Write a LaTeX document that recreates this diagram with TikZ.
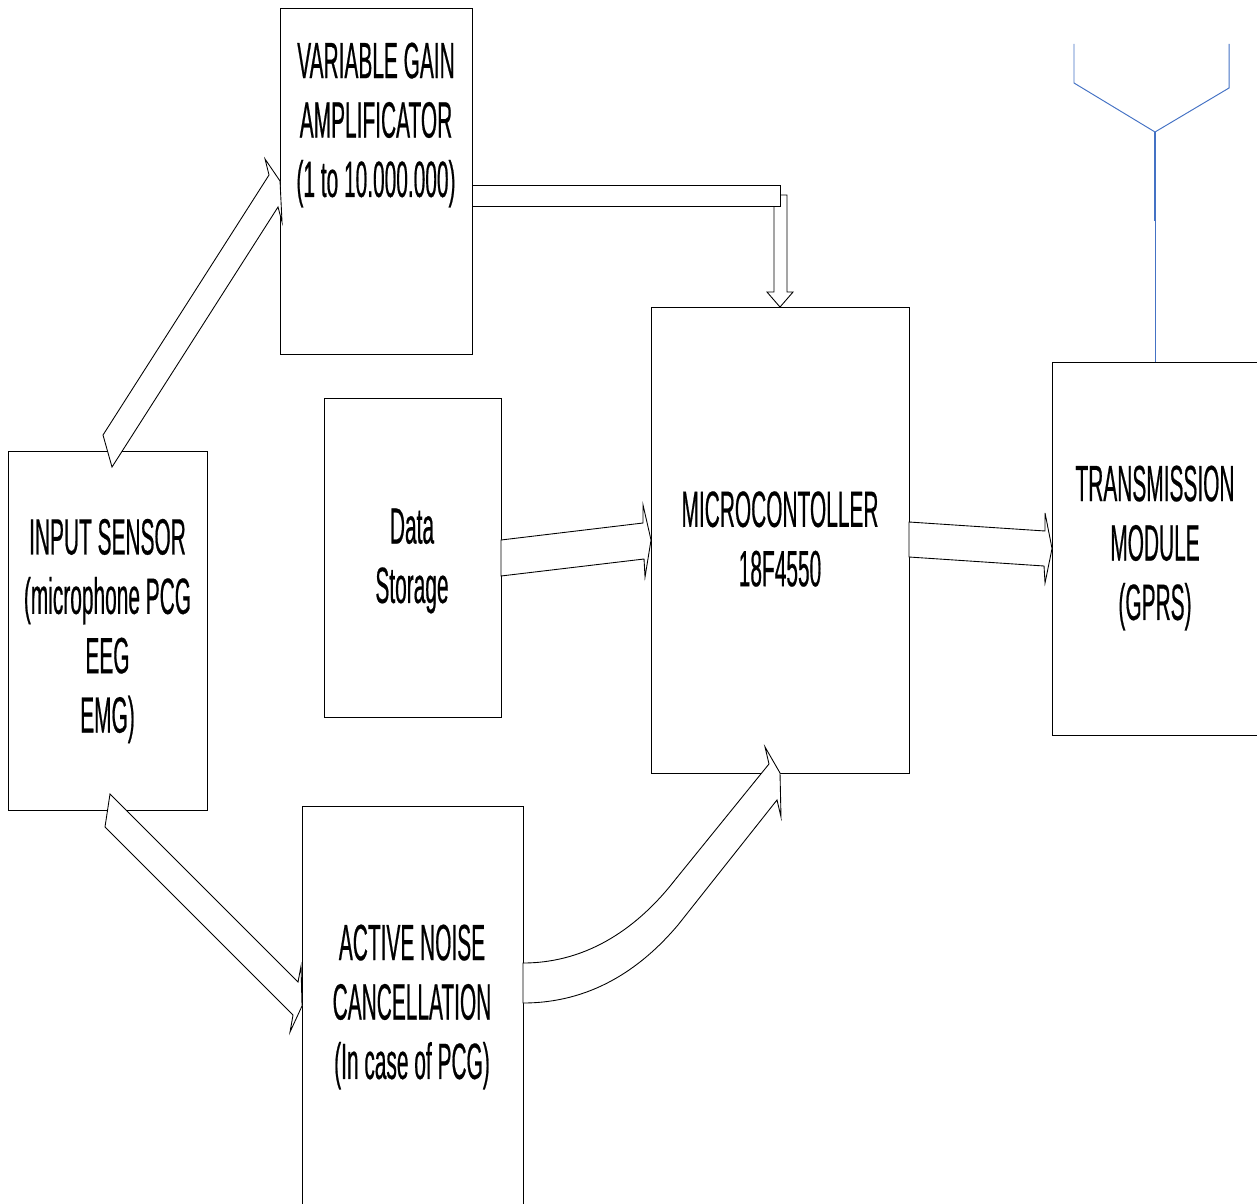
\documentclass[tikz,border=0pt]{standalone}
\usepackage{fontspec}
\setmainfont[FakeStretch=0.41,FakeBold=0.4]{Liberation Sans}
\usetikzlibrary{calc}
\definecolor{antcol}{HTML}{4472C4}
\tikzset{
  block/.style={rectangle, draw=black, line width=0.5pt, inner sep=0pt, outer sep=0pt},
  blocktext/.style={align=center, inner sep=0pt, font=\fontsize{29}{33.8}\selectfont},
  blockarrow/.style={draw=black, fill=white, line width=0.5pt, line join=miter},
  antwire/.style={draw=antcol, line width=0.55pt},
}
\begin{document}
\begin{tikzpicture}[x=0.02cm,y=-0.02cm]
    \useasboundingbox (0,0) rectangle (1257,1203);
    \node[block, minimum width=3.84cm, minimum height=6.92cm] (vga) at (376,181) {};
    \node[block, minimum width=3.54cm, minimum height=6.38cm] (store) at (412.5,557.5) {};
    \node[block, minimum width=5.16cm, minimum height=9.32cm] (micro) at (780,540) {};
    \node[block, minimum width=4.12cm, minimum height=7.46cm] (trans) at (1155,548.5) {};
    \node[block, minimum width=3.98cm, minimum height=7.18cm] (input) at (107.5,630.5) {};
    \node[block, minimum width=4.42cm, minimum height=8cm] (noise) at (412.5,1006) {};
    \node[blocktext] (vgatext) at (376,125) {VARIABLE GAIN\\AMPLIFICATOR\\(1 to 10.000.000)};
    \node[blocktext] (storetext) at (412,561) {Data\\Storage};
    \node[blocktext] (microtext) at (780,539) {MICROCONTOLLER\\18F4550};
    \node[blocktext] (transtext) at (1155,548) {TRANSMISSION\\MODULE\\(GPRS)};
    \node[blocktext] (inputtext) at (107.5,631) {INPUT SENSOR\\(microphone PCG\\EEG\\EMG)};
    \node[blocktext] (noisetext) at (412,1007) {ACTIVE NOISE\\CANCELLATION\\(In case of PCG)};
    \draw[blockarrow] ($(input.north)+(-4.5,-16)$) -- ($(vga.west)+(-11,-6)$) -- ($(vga.west)+(-15,-22)$) -- (vga.west)
        -- ($(vga.west)+(2,41)$) -- ($(vga.west)+(-2,26)$) -- ($(input.north)+(4.5,16)$) -- cycle;
    \draw[blockarrow] ($(input.south)+(2.5,-16)$) -- ($(noise.west)+(-4,-24)$) -- ($(noise.west)+(-1,-40)$) -- (noise.west)
        -- ($(noise.west)+(-12,26)$) -- ($(noise.west)+(-9,9)$) -- ($(input.south)+(-2.5,17)$) -- cycle;
    \draw[blockarrow] ($(noise.east)+(0,-43)$) .. controls ($(noise.east)+(67,-43)$) and ($(micro.south)+(-140,152)$) .. ($(micro.south)+(-105,107)$)
        -- ($(micro.south)+(-11,-9)$) -- ($(micro.south)+(-15,-26)$) -- (micro.south) -- ($(micro.south)+(1,44)$) -- ($(micro.south)+(-3,27)$)
        -- ($(micro.south)+(-102,152)$) .. controls ($(micro.south)+(-140,197)$) and ($(noise.east)+(67,-3)$) .. ($(noise.east)+(0,-3)$) -- cycle;
    \draw[blockarrow] ($(store.east)+(0,-17.5)$) -- ($(micro.west)+(-8,-17)$) -- ($(micro.west)+(-8,-35)$) -- (micro.west)
        -- ($(micro.west)+(-6,37)$) -- ($(micro.west)+(-7,19)$) -- ($(store.east)+(0,18.5)$) -- cycle;
    \draw[blockarrow] ($(micro.east)+(0,-18)$) -- ($(trans.west)+(-7,-17.5)$) -- ($(trans.west)+(-7,-35.5)$) -- (trans.west)
        -- ($(trans.west)+(-7,34.5)$) -- ($(trans.west)+(-8,17.5)$) -- ($(micro.east)+(0,17)$) -- cycle;
    \draw[blockarrow] ($(micro.north)+(0,-112)$) -- ($(micro.north)+(7,-112)$) -- ($(micro.north)+(7,-15)$) -- ($(micro.north)+(13,-15)$) -- (micro.north)
        -- ($(micro.north)+(-13,-15)$) -- ($(micro.north)+(-6,-15)$) -- ($(micro.north)+(-6,-105)$);
    \draw[blockarrow] ($(vga.east)+(0,4)$) rectangle ($(micro.north)+(0,-101)$);
    \coordinate (fork) at (1155,132);
    \coordinate (stemend) at (1155,221);
    \coordinate (armleft) at (1074,83);
    \coordinate (armright) at (1229,88);
    \draw[antwire] (trans.north) -- (stemend);
    \draw[antwire, line width=1.2pt] (stemend) -- (fork);
    \draw[antwire] (fork) -- (armleft) -- ++(0,-39);
    \draw[antwire] (fork) -- (armright) -- ++(0,-44);
\end{tikzpicture}
\end{document}
